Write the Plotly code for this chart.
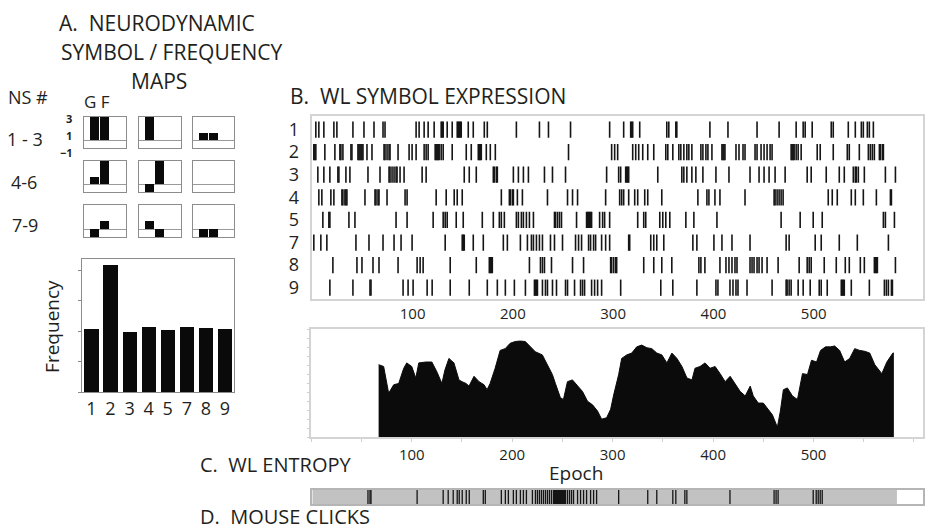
import plotly.graph_objects as go

W, H = 925, 531

# ---------------- data ----------------
# Panel A: neurodynamic symbol maps (G and F values for NS 1..9)
ns_ids = [1, 2, 3, 4, 5, 6, 7, 8, 9]
ns_G = [3, 3, 1, 1, -1, 0, -1, 1, -1]
ns_F = [3, 0, 1, 3, 3, 0, 1, -1, -1]

# Panel A: frequency of each symbol
freq_labels = ["1", "2", "3", "4", "5", "7", "8", "9"]
freq_values = [2.07, 4.18, 1.98, 2.14, 2.03, 2.14, 2.10, 2.07]

# Panel B: WL symbol expression (epochs at which each NS appears)
raster_labels = ["1", "2", "3", "4", "5", "7", "8", "9"]
ns1_epochs = [3, 6, 11, 21, 24, 40, 51, 61, 70, 72, 103, 106, 111, 115, 121, 128, 129, 130, 134, 139,
              144, 145, 146, 147, 148, 155, 160, 171, 174, 203, 226, 235, 257, 296, 310, 317, 318, 319,
              326, 353, 355, 362, 363, 396, 414, 443, 465, 482, 489, 491, 498, 517, 519, 534, 541, 547,
              549, 553, 555, 559]
ns2_epochs = [1, 2, 3, 12, 22, 27, 28, 30, 38, 39, 45, 46, 47, 48, 49, 50, 54, 59, 71, 72, 74, 76, 77,
              85, 96, 99, 103, 111, 113, 115, 122, 123, 124, 125, 126, 128, 130, 139, 153, 158, 165, 166,
              167, 168, 173, 177, 182, 255, 298, 301, 304, 319, 322, 325, 329, 334, 340, 352, 354, 359,
              365, 367, 370, 373, 375, 378, 387, 389, 392, 394, 398, 408, 409, 410, 411, 422, 425, 429,
              431, 441, 443, 447, 450, 453, 456, 458, 477, 478, 479, 480, 482, 484, 487, 503, 506, 519,
              533, 535, 545, 554, 556, 558, 560, 565, 566, 568, 569]
ns3_epochs = [5, 11, 17, 25, 26, 33, 37, 55, 67, 76, 77, 79, 81, 83, 84, 87, 91, 109, 113, 151, 156, 163,
              180, 181, 183, 184, 200, 205, 210, 215, 231, 239, 252, 293, 305, 307, 312, 313, 314, 315,
              344, 368, 370, 373, 378, 382, 389, 402, 415, 436, 445, 450, 455, 461, 471, 493, 497, 512,
              525, 530, 539, 541, 542, 544, 550, 571, 581]
ns4_epochs = [6, 9, 18, 21, 29, 30, 32, 33, 34, 52, 62, 63, 65, 66, 74, 92, 94, 123, 133, 141, 144, 149,
              188, 196, 197, 199, 200, 204, 209, 234, 254, 259, 264, 292, 306, 308, 310, 315, 321, 324,
              331, 334, 348, 384, 393, 395, 401, 406, 431, 460, 461, 463, 465, 467, 469, 514, 518, 523,
              537, 541, 549, 562, 576, 577]
ns5_epochs = [10, 16, 17, 36, 42, 83, 94, 120, 130, 132, 134, 143, 150, 169, 180, 186, 188, 191, 203, 205,
              208, 210, 213, 216, 220, 241, 242, 244, 246, 248, 263, 273, 274, 275, 276, 277, 278, 286,
              289, 291, 296, 324, 330, 332, 346, 349, 352, 356, 372, 380, 403, 467, 486, 499, 508, 569,
              571, 580]
ns7_epochs = [1, 8, 14, 43, 56, 70, 81, 88, 99, 132, 149, 150, 151, 160, 170, 190, 194, 207, 214, 218,
              220, 223, 226, 229, 237, 241, 249, 262, 265, 268, 275, 277, 280, 282, 288, 292, 296, 315,
              316, 337, 340, 343, 350, 379, 383, 400, 408, 418, 436, 472, 475, 501, 507, 525, 543, 574]
ns8_epochs = [20, 44, 49, 60, 66, 85, 104, 107, 110, 137, 163, 176, 177, 178, 179, 216, 227, 229, 231,
              238, 259, 270, 297, 298, 300, 302, 303, 330, 340, 348, 358, 385, 387, 391, 406, 412, 415,
              418, 421, 423, 436, 438, 440, 443, 445, 448, 453, 464, 485, 493, 495, 497, 510, 522, 531,
              535, 546, 550, 560, 561, 562, 563, 581]
ns9_epochs = [17, 40, 57, 58, 90, 95, 100, 114, 119, 137, 156, 174, 184, 192, 201, 212, 221, 222, 223,
              224, 229, 232, 234, 239, 243, 252, 254, 261, 267, 269, 271, 278, 281, 284, 288, 307, 347,
              359, 383, 402, 404, 416, 419, 422, 424, 433, 458, 472, 473, 475, 477, 484, 489, 496, 505,
              507, 513, 527, 528, 529, 530, 537, 555, 570, 572, 574, 577, 578]
raster_rows = [ns1_epochs, ns2_epochs, ns3_epochs, ns4_epochs, ns5_epochs, ns7_epochs, ns8_epochs, ns9_epochs]

# Panel C: WL entropy (moving window)
ent_epoch = [67, 72, 77, 82, 87, 92, 95, 100, 104, 107, 114, 120, 125, 130, 133, 137, 142, 147, 150, 154,
             157, 162, 167, 172, 175, 178, 183, 188, 193, 198, 203, 208, 213, 218, 223, 230, 235, 240,
             243, 248, 251, 255, 260, 265, 270, 275, 280, 285, 289, 294, 298, 301, 306, 309, 314, 319,
             324, 329, 334, 339, 344, 349, 354, 359, 364, 369, 374, 379, 382, 387, 392, 397, 402, 407,
             412, 417, 422, 427, 432, 437, 440, 445, 450, 455, 459, 464, 467, 470, 474, 479, 484, 489,
             494, 498, 503, 507, 512, 517, 521, 526, 531, 536, 541, 546, 551, 556, 561, 568, 573, 579, 580]
ent_value = [8.1, 7.9, 4.9, 5.85, 6.0, 7.7, 8.3, 7.9, 6.6, 8.3, 8.4, 8.4, 7.3, 6.0, 7.5, 8.8, 8.3, 6.4,
             6.2, 6.0, 5.7, 6.8, 6.2, 5.85, 5.3, 6.0, 7.7, 9.7, 9.9, 10.5, 10.7, 10.75, 10.7, 10.1, 9.55,
             9.2, 8.1, 7.0, 6.0, 4.4, 4.2, 6.2, 6.4, 5.7, 5.1, 4.0, 3.6, 2.9, 2.0, 2.15, 3.1, 4.7, 7.0,
             8.8, 9.2, 9.4, 10.1, 10.3, 10.0, 9.9, 9.4, 9.2, 8.3, 9.4, 8.8, 7.9, 6.6, 6.4, 7.7, 7.9, 8.3,
             7.7, 7.9, 7.1, 6.2, 6.8, 6.0, 5.1, 4.6, 5.7, 4.6, 3.8, 3.8, 3.1, 2.5, 1.1, 2.9, 5.3, 5.5,
             4.6, 4.2, 7.1, 7.0, 8.6, 8.4, 9.7, 10.1, 10.1, 10.2, 9.7, 8.4, 8.8, 9.9, 9.7, 9.6, 9.4, 8.1,
             7.1, 8.4, 9.4, 9.4]

# Panel D: mouse clicks
session_end = 583
click_epochs = [55, 57, 58, 104, 130, 135, 140, 144, 146, 149, 153, 156, 170, 172, 188, 192, 195, 200,
                203, 207, 210, 213, 219, 222, 224, 226, 228, 230, 232, 234, 236, 238, 240, 241, 242, 243,
                244, 245, 246, 247, 248, 249, 250, 251, 252, 254, 256, 258, 260, 264, 267, 270, 273, 277,
                280, 283, 305, 334, 343, 359, 362, 371, 373, 416, 460, 462, 464, 499, 502, 504, 506, 508]

epoch_ticks = [100, 200, 300, 400, 500]
epoch_range = [0, 609]

# ---------------- helpers ----------------
def px(x):
    return x / W

def py(y):
    return 1 - y / H

TXT = "#231f20"
FONT = "Open Sans"

fig = go.Figure()
layout = dict(width=W, height=H, margin=dict(l=0, r=0, t=0, b=0),
              paper_bgcolor="white", plot_bgcolor="white", showlegend=False,
              font=dict(family=FONT, color=TXT), bargap=0)

# ---------------- Panel A: 3x3 maps ----------------
col_x = [(84, 126), (139, 181), (193, 235)]
row_y = [(117, 148), (161, 192), (205, 237)]
for i in range(9):
    r, c = divmod(i, 3)
    k = i + 1
    xa = "x" if k == 1 else f"x{k}"
    ya = "y" if k == 1 else f"y{k}"
    fig.add_trace(go.Bar(x=[1, 2], y=[ns_G[i], ns_F[i]], width=0.86,
                         marker=dict(color="#0a0a0a", line=dict(width=0)),
                         xaxis=xa, yaxis=ya, hoverinfo="skip"))
    xk = "xaxis" if k == 1 else f"xaxis{k}"
    yk = "yaxis" if k == 1 else f"yaxis{k}"
    layout[xk] = dict(domain=[px(col_x[c][0]), px(col_x[c][1])], range=[0, 4],
                      showline=True, mirror=True, linecolor="#8c8c8c", linewidth=1,
                      showticklabels=False, ticks="", showgrid=False, zeroline=False,
                      anchor=ya, fixedrange=True)
    layout[yk] = dict(domain=[py(row_y[r][1]), py(row_y[r][0])], range=[-1, 3.03],
                      showline=True, mirror=True, linecolor="#8c8c8c", linewidth=1,
                      showticklabels=False, ticks="", showgrid=False,
                      zeroline=True, zerolinecolor="#9a9a9a", zerolinewidth=1,
                      anchor=xa, fixedrange=True)

# ---------------- Panel A: frequency bars ----------------
fig.add_trace(go.Bar(x=list(range(len(freq_values))), y=freq_values, width=0.75,
                     marker=dict(color="#0a0a0a", line=dict(width=0)),
                     xaxis="x10", yaxis="y10", hoverinfo="skip"))
layout["xaxis10"] = dict(domain=[px(82), px(235)], range=[-0.5, 7.5],
                         tickvals=list(range(len(freq_labels))), ticktext=freq_labels,
                         tickfont=dict(size=18, color=TXT), ticks="",
                         showline=True, mirror=True, linecolor="#8c8c8c", linewidth=1,
                         showgrid=False, zeroline=False, anchor="y10")
layout["yaxis10"] = dict(domain=[py(392), py(259)], range=[0, 4.37],
                         tickvals=[0, 1, 2, 3, 4], showticklabels=False,
                         ticks="outside", ticklen=3, tickcolor="#8c8c8c",
                         showline=True, mirror=True, linecolor="#8c8c8c", linewidth=1,
                         showgrid=False, zeroline=False, anchor="x10")

# ---------------- Panel B: raster ----------------
seg_x, seg_y = [], []
for ri, row in enumerate(raster_rows):
    for e in row:
        seg_x += [e + 0.5, e + 0.5, None]
        seg_y += [ri - 0.36, ri + 0.36, None]
fig.add_trace(go.Scatter(x=seg_x, y=seg_y, mode="lines",
                         line=dict(color="#151515", width=1.6),
                         xaxis="x11", yaxis="y11", hoverinfo="skip"))
layout["xaxis11"] = dict(domain=[px(313), 1.0], range=epoch_range,
                         tickvals=epoch_ticks, tickfont=dict(size=15, color=TXT), ticks="",
                         showline=True, mirror=True, linecolor="#d4d4d4", linewidth=1.5,
                         showgrid=False, zeroline=False, anchor="y11")
layout["yaxis11"] = dict(domain=[py(299), py(116)], range=[7.5, -0.6],
                         tickvals=list(range(len(raster_labels))), ticktext=raster_labels,
                         tickfont=dict(size=18, color=TXT), ticks="", ticklabelstandoff=8,
                         showline=True, mirror=True, linecolor="#d4d4d4", linewidth=1.5,
                         showgrid=False, zeroline=False, anchor="x11")

# ---------------- Panel C: entropy ----------------
fig.add_trace(go.Scatter(x=ent_epoch, y=ent_value, mode="lines", fill="tozeroy",
                         fillcolor="#0b0b0b", line=dict(color="#0b0b0b", width=1),
                         xaxis="x12", yaxis="y12", hoverinfo="skip"))
layout["xaxis12"] = dict(domain=[px(312), 1.0], range=epoch_range,
                         tickvals=epoch_ticks, tickfont=dict(size=15, color=TXT),
                         ticks="outside", ticklen=3, tickcolor="#cfcfcf",
                         minor=dict(dtick=50, tick0=0, ticks="outside", ticklen=3, tickcolor="#cfcfcf"),
                         showline=True, mirror=True, linecolor="#d4d4d4", linewidth=1.5,
                         showgrid=False, zeroline=False, anchor="y12")
layout["yaxis12"] = dict(domain=[py(437), py(329)], range=[0, 12.1], dtick=1, tick0=0,
                         showticklabels=False, ticks="outside", ticklen=3, tickcolor="#cfcfcf",
                         showline=True, mirror=True, linecolor="#d4d4d4", linewidth=1.5,
                         showgrid=False, zeroline=False, anchor="x12")

# ---------------- Panel D: mouse clicks ----------------
fig.add_trace(go.Scatter(x=[0, session_end, session_end, 0, 0], y=[0, 0, 1, 1, 0],
                         mode="lines", fill="toself", fillcolor="#c2c2c2",
                         line=dict(width=0, color="#c2c2c2"),
                         xaxis="x13", yaxis="y13", hoverinfo="skip"))
cx, cy = [], []
for e in click_epochs:
    cx += [e + 0.5, e + 0.5, None]
    cy += [0, 1, None]
fig.add_trace(go.Scatter(x=cx, y=cy, mode="lines", line=dict(color="#151515", width=1.3),
                         xaxis="x13", yaxis="y13", hoverinfo="skip"))
layout["xaxis13"] = dict(domain=[px(313), 1.0], range=epoch_range, showticklabels=False, ticks="",
                         showline=True, mirror=True, linecolor="#b5b5b5", linewidth=1.5,
                         showgrid=False, zeroline=False, anchor="y13")
layout["yaxis13"] = dict(domain=[py(504), py(490)], range=[0, 1], showticklabels=False, ticks="",
                         showline=True, mirror=True, linecolor="#b5b5b5", linewidth=1.5,
                         showgrid=False, zeroline=False, anchor="x13")

# ---------------- text ----------------
def ann(text, x, y, size, xanchor="center", angle=0, bold=False):
    t = f"<b>{text}</b>" if bold else text
    return dict(text=t, x=px(x), y=py(y), xref="paper", yref="paper",
                xanchor=xanchor, yanchor="middle", showarrow=False, textangle=angle,
                font=dict(size=size, family=FONT, color=TXT))

annotations = [
    ann("A.  NEURODYNAMIC", 157, 23, 21),
    ann("SYMBOL / FREQUENCY", 172, 52, 21),
    ann("MAPS", 159, 81, 21),
    ann("NS #", 28, 97, 18),
    ann("G F", 97, 101, 17),
    ann("1 - 3", 25, 139, 18),
    ann("4-6", 24, 182, 18),
    ann("7-9", 25, 225, 18),
    ann("3", 69, 118, 11, bold=True),
    ann("1", 69, 135, 11, bold=True),
    ann("\u22121", 67, 152, 11, bold=True),
    ann("Frequency", 52, 326, 19, angle=-90),
    ann("B.  WL SYMBOL EXPRESSION", 429, 96, 21),
    ann("C.  WL ENTROPY", 198, 464, 20, xanchor="left"),
    ann("Epoch", 577, 473, 19),
    ann("D.  MOUSE CLICKS", 198, 516, 20, xanchor="left"),
]
layout["annotations"] = annotations

fig.update_layout(**layout)
fig.write_html("out.html")
